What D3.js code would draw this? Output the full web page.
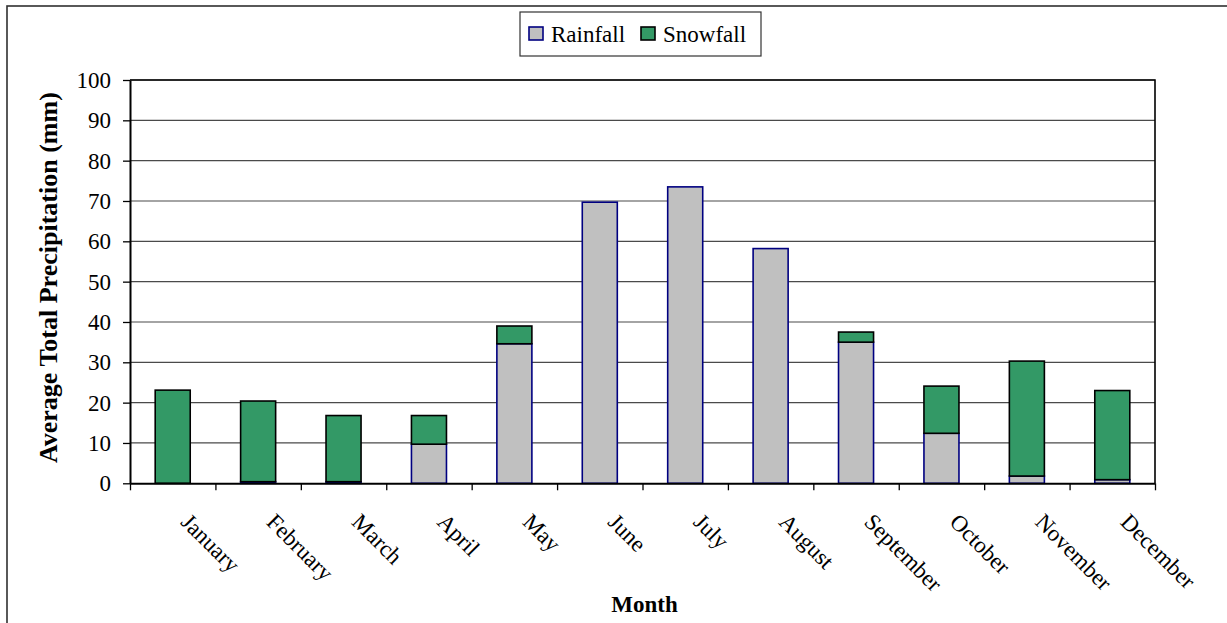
<!DOCTYPE html>
<html>
<head>
<meta charset="utf-8">
<script src="https://cdn.jsdelivr.net/npm/d3@7"></script>
<style>
  html, body { margin: 0; padding: 0; background: #fff; }
  svg { display: block; }
  text { font-family: "Liberation Serif", "Times New Roman", serif; fill: #000; }
</style>
</head>
<body>
<svg id="chart" width="1227" height="623"></svg>
<script>
// Monthly average precipitation (mm), split into rain and snow
const months = ["January", "February", "March", "April", "May", "June",
                "July", "August", "September", "October", "November", "December"];
const rainfall = [0, 0.4, 0.4, 9.7, 34.6, 69.7, 73.5, 58.2, 35.0, 12.4, 1.8, 0.9];
const snowfall = [23.1, 20.0, 16.4, 7.1, 4.4, 0, 0, 0, 2.5, 11.7, 28.5, 22.1];
const yTicks = [0, 10, 20, 30, 40, 50, 60, 70, 80, 90, 100];
const seriesNames = ["Rainfall", "Snowfall"];

const W = 1227, H = 623;
const plot = { left: 130, right: 1155, top: 80, bottom: 483.3 };

const svg = d3.select("#chart");

// outer chart frame
svg.append("rect")
  .attr("x", 7).attr("y", 6)
  .attr("width", W + 20).attr("height", H + 20)
  .attr("fill", "#fff").attr("stroke", "#303030").attr("stroke-width", 1.6);

const y = d3.scaleLinear().domain([0, 100]).range([plot.bottom, plot.top]);
const x = d3.scaleBand().domain(months)
  .range([plot.left, plot.right])
  .paddingInner(0.59).paddingOuter(0.295);
const xEdge = d3.scaleLinear().domain([0, months.length]).range([plot.left, plot.right]);

// horizontal gridlines
svg.append("g").selectAll("line")
  .data(yTicks.filter(t => t > 0))
  .join("line")
  .attr("x1", plot.left).attr("x2", plot.right)
  .attr("y1", d => y(d)).attr("y2", d => y(d))
  .attr("stroke", "#4a4a4a").attr("stroke-width", 1.2);

// plot area border (top and right)
svg.append("path")
  .attr("d", `M${plot.left},${plot.top}H${plot.right}V${plot.bottom}`)
  .attr("fill", "none").attr("stroke", "#000").attr("stroke-width", 1.6);

// stacked bars
const stackData = months.map((m, i) => ({ month: m, Rainfall: rainfall[i], Snowfall: snowfall[i] }));
const stacked = d3.stack().keys(seriesNames)(stackData);
const fills = { Rainfall: "#C0C0C0", Snowfall: "#339966" };
const strokes = { Rainfall: "#000080", Snowfall: "#000" };

stacked.forEach(layer => {
  svg.append("g").selectAll("rect")
    .data(layer.filter(d => d[1] - d[0] > 0))
    .join("rect")
    .attr("x", d => x(d.data.month))
    .attr("width", x.bandwidth())
    .attr("y", d => y(d[1]))
    .attr("height", d => y(d[0]) - y(d[1]))
    .attr("fill", fills[layer.key])
    .attr("stroke", strokes[layer.key])
    .attr("stroke-width", 1.6);
});

// y axis
const yAxis = svg.append("g")
  .attr("transform", `translate(${plot.left},0)`)
  .call(d3.axisLeft(y).tickValues(yTicks).tickSize(7).tickPadding(12).tickSizeOuter(0));
yAxis.select(".domain").attr("stroke", "#000").attr("stroke-width", 2);
yAxis.selectAll(".tick line").attr("stroke", "#000").attr("stroke-width", 1.3);
yAxis.selectAll(".tick text")
  .attr("font-family", "Liberation Serif, serif")
  .attr("font-size", 23).attr("fill", "#000");

// x axis: tick marks between categories
const xAxis = svg.append("g")
  .attr("transform", `translate(0,${plot.bottom})`)
  .call(d3.axisBottom(xEdge).tickValues(d3.range(months.length + 1)).tickSize(7)
    .tickFormat("").tickSizeOuter(0));
xAxis.select(".domain").attr("stroke", "#000").attr("stroke-width", 2);
xAxis.selectAll(".tick line").attr("stroke", "#000").attr("stroke-width", 1.3);

// rotated month labels
svg.append("g").selectAll("text")
  .data(months)
  .join("text")
  .attr("transform", d => `translate(${x(d) + x.bandwidth() / 2 + 7},${plot.bottom + 40}) rotate(45)`)
  .attr("text-anchor", "start")
  .attr("font-size", 23)
  .text(d => d);

// axis titles
svg.append("text")
  .attr("transform", `translate(57,${(plot.top + plot.bottom) / 2 - 4}) rotate(-90)`)
  .attr("text-anchor", "middle")
  .attr("font-size", 26).attr("font-weight", "bold")
  .text("Average Total Precipitation (mm)");

svg.append("text")
  .attr("x", (plot.left + plot.right) / 2 + 2).attr("y", 612)
  .attr("text-anchor", "middle")
  .attr("font-size", 23).attr("font-weight", "bold")
  .text("Month");

// legend
const legend = svg.append("g");
legend.append("rect")
  .attr("x", 520).attr("y", 12).attr("width", 241).attr("height", 44)
  .attr("fill", "#fff").attr("stroke", "#333").attr("stroke-width", 1.2);
const legendX = [529, 641];
seriesNames.forEach((name, i) => {
  legend.append("rect")
    .attr("x", legendX[i]).attr("y", 27).attr("width", 14).attr("height", 13)
    .attr("fill", fills[name]).attr("stroke", strokes[name]).attr("stroke-width", 1.6);
  legend.append("text")
    .attr("x", legendX[i] + 22).attr("y", 42)
    .attr("font-size", 23)
    .text(name);
});
</script>
</body>
</html>
